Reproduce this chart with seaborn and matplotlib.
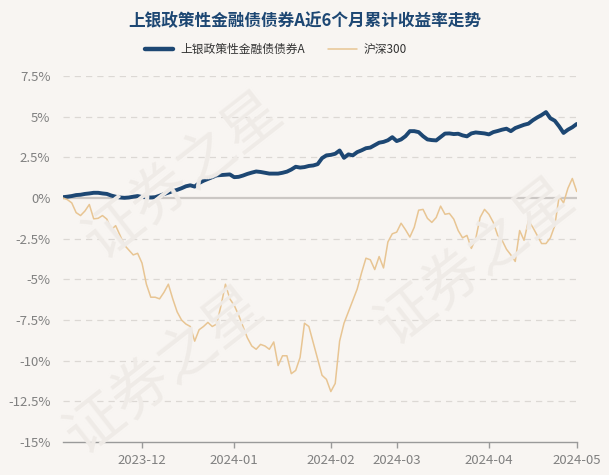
import pandas as pd
import matplotlib.pyplot as plt
import seaborn as sns

# ==========================================
# 1. Data (% cumulative return)
# ==========================================
holidays = ['2024-01-01', '2024-02-09', '2024-02-12', '2024-02-13', '2024-02-14',
            '2024-02-15', '2024-02-16', '2024-04-04', '2024-04-05',
            '2024-05-01', '2024-05-02', '2024-05-03']
trade_days = pd.bdate_range('2023-11-07', '2024-05-06')
trade_days = trade_days[~trade_days.isin(pd.to_datetime(holidays))]

fund_name = '上银政策性金融债债券A'
index_name = '沪深300'

fund_ret = [0.05, 0.08, 0.12, 0.18, 0.20, 0.25, 0.28, 0.32, 0.32, 0.28,
            0.25, 0.15, 0.08, 0.03, 0.01, 0.03, 0.08, 0.12, 0.06, 0.05,
            0.03, 0.05, 0.14, 0.24, 0.33, 0.42, 0.50, 0.60, 0.72, 0.78,
            0.70, 0.92, 1.06, 1.17, 1.28, 1.39, 1.41, 1.43, 1.45, 1.28,
            1.30, 1.38, 1.48, 1.56, 1.63, 1.60, 1.55, 1.50, 1.50, 1.50,
            1.55, 1.62, 1.75, 1.92, 1.87, 1.90, 1.97, 2.00, 2.08, 2.45,
            2.62, 2.65, 2.72, 2.92, 2.47, 2.68, 2.62, 2.82, 2.93, 3.06,
            3.10, 3.25, 3.40, 3.45, 3.55, 3.74, 3.50, 3.60, 3.80, 4.11,
            4.11, 4.05, 3.80, 3.60, 3.56, 3.54, 3.75, 3.96, 3.97, 3.93,
            3.95, 3.85, 3.79, 3.97, 4.03, 4.00, 3.97, 3.91, 4.05, 4.12,
            4.20, 4.26, 4.11, 4.30, 4.40, 4.50, 4.57, 4.78, 4.95, 5.10,
            5.28, 4.90, 4.75, 4.40, 4.00, 4.20, 4.35, 4.55]

index_ret = [0.00, -0.10, -0.30, -0.90, -1.08, -0.80, -0.40, -1.28, -1.25, -1.08,
             -1.30, -1.95, -1.70, -2.30, -2.90, -3.20, -3.50, -3.40, -4.00, -5.30,
             -6.10, -6.10, -6.20, -5.80, -5.30, -6.20, -7.00, -7.50, -7.75, -7.90,
             -8.80, -8.10, -7.90, -7.65, -7.90, -7.75, -6.60, -5.30, -6.20, -6.60,
             -7.20, -7.90, -8.60, -9.10, -9.30, -9.00, -9.10, -9.30, -8.85, -10.30,
             -9.70, -9.70, -10.80, -10.60, -9.80, -7.70, -7.90, -8.90, -9.90, -10.90,
             -11.15, -11.90, -11.40, -8.80, -7.70, -7.00, -6.30, -5.60, -4.60, -3.70,
             -3.80, -4.40, -3.60, -4.30, -2.70, -2.20, -2.10, -1.55, -1.95, -2.40,
             -1.80, -0.75, -0.70, -1.25, -1.50, -1.20, -0.50, -1.00, -0.95, -1.30,
             -2.00, -2.45, -2.30, -3.10, -2.50, -1.20, -0.70, -1.00, -1.50, -2.30,
             -2.60, -3.15, -3.50, -3.90, -2.00, -2.60, -1.40, -1.80, -2.30, -2.80,
             -2.80, -2.45, -1.70, 0.10, -0.30, 0.60, 1.20, 0.40]

y_ticks = [7.5, 5, 2.5, 0, -2.5, -5, -7.5, -10, -12.5, -15]
y_labels = ['7.5%', '5%', '2.5%', '0%', '-2.5%', '-5%', '-7.5%', '-10%', '-12.5%', '-15%']

df = pd.DataFrame({'day': range(len(trade_days)), 'date': trade_days,
                   fund_name: fund_ret, index_name: index_ret})
long_df = df.melt(id_vars=['day', 'date'], var_name='series', value_name='ret')

# first trading day of each month (from Dec) gets a tick
month_first = df.groupby(df['date'].dt.to_period('M'))['day'].min()
month_first = month_first[month_first.index >= pd.Period('2023-12', 'M')]

# ==========================================
# 2. Plot
# ==========================================
sns.set_theme(style='white')
plt.rcParams['font.family'] = ['Noto Sans CJK SC', 'DejaVu Sans']

bg = '#f8f5f2'
blue, tan = '#1d4773', '#e8c593'
fig = plt.figure(figsize=(6.09, 4.75), dpi=100, facecolor=bg)
ax = fig.add_axes([0.1034, 0.0695, 0.8436, 0.7705])

# faint watermark
for (x, y) in [(0.30, 0.63), (0.27, 0.22), (0.78, 0.45)]:
    fig.text(x, y, '证券之星', fontsize=42, color='#efebe7', rotation=38,
             ha='center', va='center', zorder=0)
ax.patch.set_alpha(0)

sns.lineplot(data=long_df, x='day', y='ret', hue='series', ax=ax,
             palette={fund_name: blue, index_name: tan},
             size='series', sizes={fund_name: 2.8, index_name: 1.1},
             legend=False, zorder=3)

for t in y_ticks:
    if t == 0:
        ax.axhline(t, color='#cbc7c4', lw=1.6, zorder=2)
    elif t != -15:
        ax.axhline(t, color='#dcd8d4', lw=0.9, ls=(0, (5, 4)), zorder=1)

ax.set_xlim(0, len(trade_days) - 1)
ax.set_ylim(-15, 7.5)
ax.set_yticks(y_ticks)
ax.set_yticklabels(y_labels)
ax.set_xticks(month_first.values)
ax.set_xticklabels([str(p) for p in month_first.index])
ax.set_xlabel('')
ax.set_ylabel('')

for s in ['top', 'right', 'left']:
    ax.spines[s].set_visible(False)
ax.spines['bottom'].set_color('#9a9a9a')
ax.spines['bottom'].set_linewidth(1.0)
ax.tick_params(axis='y', length=0, pad=9, labelsize=9.5, labelcolor='#808080')
ax.tick_params(axis='x', length=4, width=1, color='#9a9a9a', pad=5,
               labelsize=9.5, labelcolor='#808080', bottom=True)

fig.text(0.5, 0.955, '上银政策性金融债债券A近6个月累计收益率走势', ha='center', va='center',
         fontsize=12, fontweight='bold', color=blue)

handles = [plt.Line2D([], [], color=blue, lw=3.2),
           plt.Line2D([], [], color=tan, lw=1.1)]
fig.legend(handles, [fund_name, index_name], loc='center', bbox_to_anchor=(0.453, 0.896),
           ncol=2, frameon=False, fontsize=8.5, handlelength=2.4, handletextpad=0.6,
           columnspacing=2.0, labelcolor='#333333')

fig.savefig('out.png', dpi=100, facecolor=bg)
